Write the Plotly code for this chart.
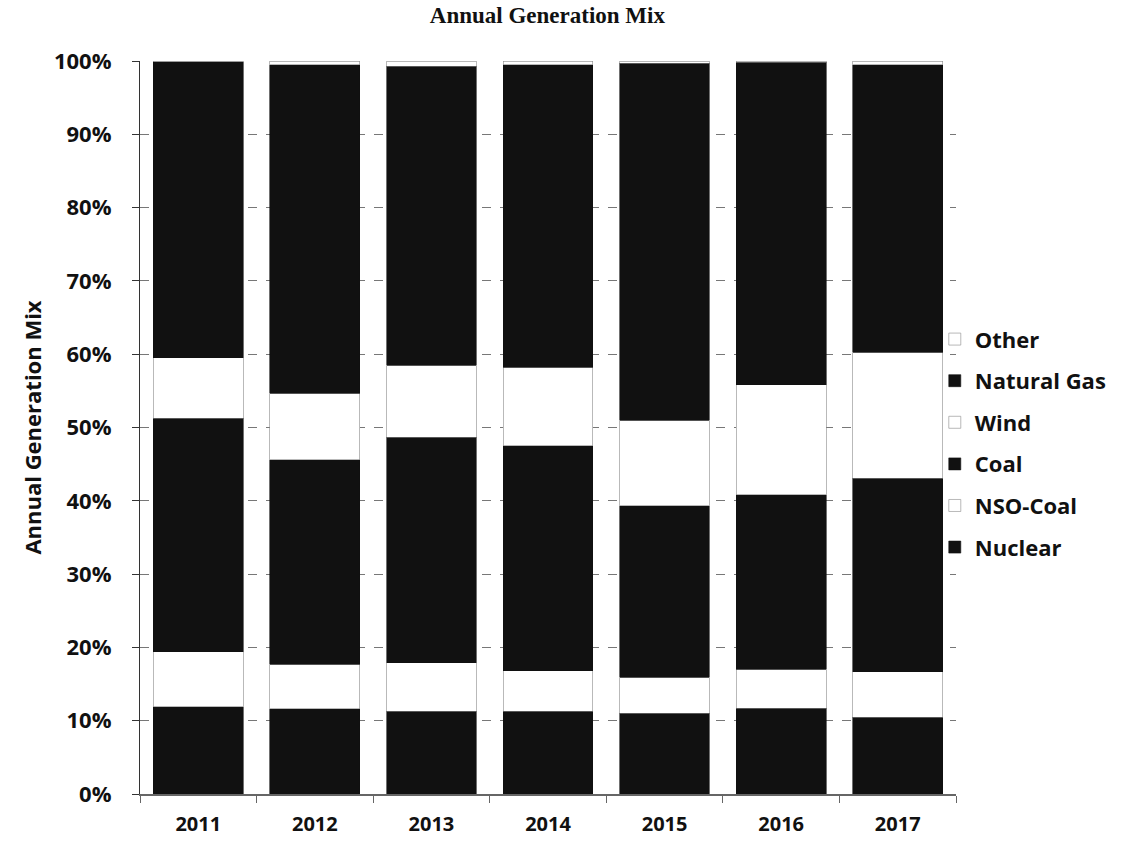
import plotly.graph_objects as go

years = ["2011", "2012", "2013", "2014", "2015", "2016", "2017"]
nuclear = [11.9, 11.6, 11.3, 11.3, 11.0, 11.7, 10.5]
nso_coal = [7.5, 6.1, 6.6, 5.5, 4.9, 5.3, 6.2]
coal = [31.85, 27.9, 30.8, 30.7, 23.4, 23.8, 26.4]
wind = [8.25, 9.1, 9.8, 10.7, 11.7, 15.0, 17.2]
natural_gas = [40.4, 44.8, 40.8, 41.3, 48.7, 44.0, 39.2]
other = [0.1, 0.5, 0.7, 0.5, 0.3, 0.2, 0.5]
y_ticks = [0, 10, 20, 30, 40, 50, 60, 70, 80, 90, 100]
y_tick_labels = ["0%", "10%", "20%", "30%", "40%", "50%", "60%", "70%", "80%", "90%", "100%"]

series = [
    ("Nuclear", nuclear, "#111111"),
    ("NSO-Coal", nso_coal, "#ffffff"),
    ("Coal", coal, "#111111"),
    ("Wind", wind, "#ffffff"),
    ("Natural Gas", natural_gas, "#111111"),
    ("Other", other, "#ffffff"),
]

fig = go.Figure()
for i, (name, vals, col) in enumerate(series):
    fig.add_trace(go.Bar(
        x=years, y=vals, name=name, legendgroup=name, legendrank=len(series) - i,
        marker=dict(color=col, line=dict(color="#8a8a8a" if col == "#ffffff" else "#111111", width=0.6)),
    ))

sans = "Open Sans"
fig.update_layout(
    width=1124, height=841,
    barmode="stack", bargap=0.23,
    paper_bgcolor="white", plot_bgcolor="white",
    margin=dict(l=140, r=168, t=61, b=47, autoexpand=False),
    title=dict(text="<b>Annual Generation Mix</b>", x=0.487, xanchor="center",
               y=1 - 15 / 841, yanchor="middle", yref="container",
               font=dict(family="Liberation Serif", size=23, color="#111")),
    font=dict(family=sans, color="#111"),
    showlegend=True,
    legend=dict(x=0.974, xanchor="left", y=0.649, yanchor="top",
                traceorder="grouped", tracegroupgap=10,
                font=dict(family=sans, size=22, weight="bold", color="#111"),
                bgcolor="rgba(0,0,0,0)", itemwidth=30),
    xaxis=dict(type="category", showline=True, linecolor="#666", linewidth=1.5,
               ticks="outside", tickson="boundaries", ticklen=7, tickcolor="#666",
               tickfont=dict(family=sans, size=20, weight="bold", color="#111"),
               ticklabelstandoff=11, showgrid=False),
    yaxis=dict(range=[0, 100], tickvals=y_ticks, ticktext=y_tick_labels,
               showline=True, linecolor="#333", linewidth=1.2,
               ticks="outside", ticklen=7, tickcolor="#333",
               tickfont=dict(family=sans, size=22, weight="bold", color="#111"),
               ticklabelstandoff=16,
               showgrid=True, gridcolor="#777", gridwidth=1, griddash="dash",
               zeroline=False,
               title=dict(text="Annual Generation Mix", standoff=6,
                          font=dict(family=sans, size=22, weight="bold", color="#111"))),
)

fig.write_html("out.html")
